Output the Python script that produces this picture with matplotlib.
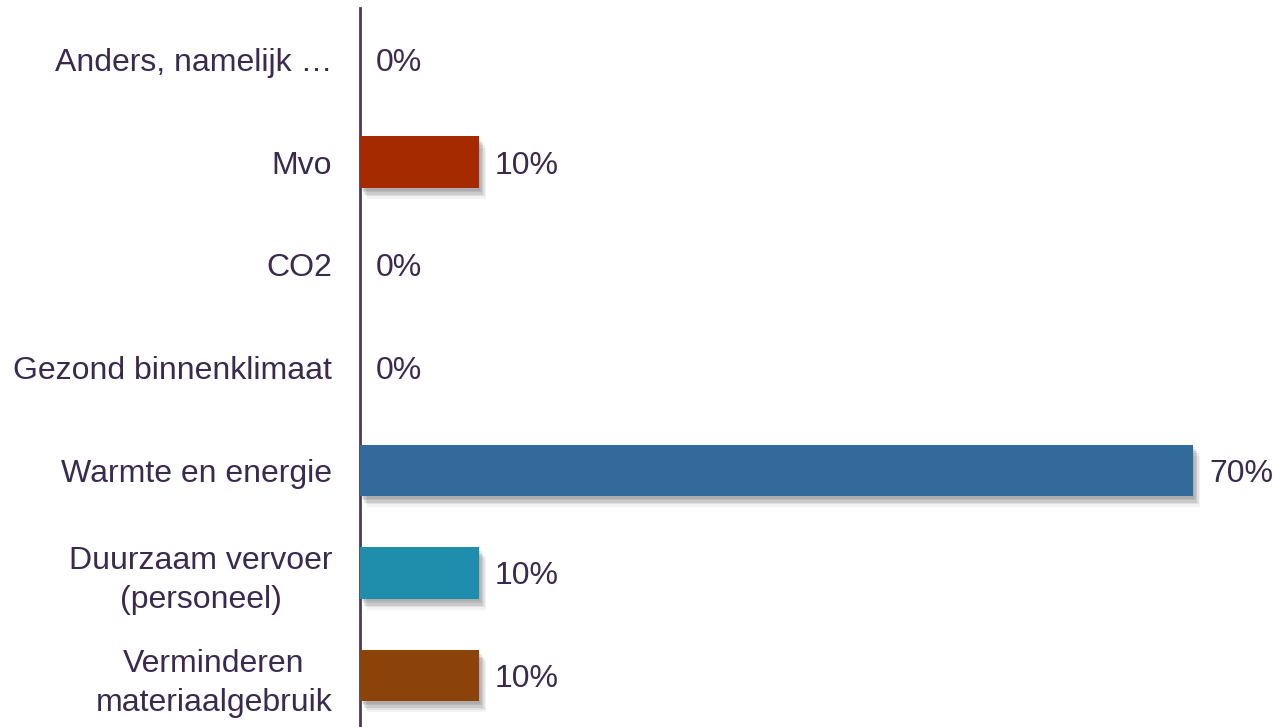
import matplotlib
matplotlib.use("Agg")
import matplotlib.pyplot as plt
import matplotlib.patheffects as pe

categories = ["Anders, namelijk …", "Mvo", "CO2", "Gezond binnenklimaat",
              "Warmte en energie", "Duurzaam vervoer\n(personeel)", "Verminderen\nmateriaalgebruik"]
values = [0, 10, 0, 0, 70, 10, 10]
colors = ["#A52A00", "#A52A00", "#A52A00", "#A52A00", "#336A9C", "#1F8EAD", "#8B4309"]
labels = [f"{v}%" for v in values]

txt = "#3B2A4F"
plt.rcParams['font.family'] = ['Liberation Sans', 'DejaVu Sans']

fig = plt.figure(figsize=(12.75, 7.27), dpi=100)
ax = fig.add_axes([360/1275, 0, 1 - 360/1275, 1 - 8/727])
y = list(range(len(categories)))
shadow = []
for dx, dy, a in [(1, -2, 0.14), (2, -3, 0.16), (3, -5, 0.18), (4, -6, 0.12), (5, -8, 0.08)]:
    shadow.append(pe.SimplePatchShadow(offset=(dx, dy), shadow_rgbFace='#666666', alpha=a))
for yi, v, c in zip(y, values, colors):
    if v > 0:
        b = ax.barh(yi, v, height=0.5, color=c, zorder=3)
        for p in b:
            p.set_path_effects(shadow + [pe.Normal()])
for yi, v, l in zip(y, values, labels):
    ax.text(v + 1.35, yi, l, va='center_baseline', ha='left', fontsize=23, color=txt)

ax.set_xlim(0, (1275 - 360) / 11.9)
ax.set_ylim(6.5, -0.5)
ax.set_yticks(y)
ax.set_yticklabels(categories, fontsize=23, color=txt, linespacing=1.38)
for t in ax.get_yticklabels():
    t.set_multialignment('center')
ax.tick_params(axis='y', length=0, pad=20)
ax.set_xticks([])
for s in ['top', 'right', 'bottom']:
    ax.spines[s].set_visible(False)
ax.spines['left'].set_color('#4A3A5E')
ax.spines['left'].set_linewidth(2)
fig.savefig("out.png", dpi=100)
